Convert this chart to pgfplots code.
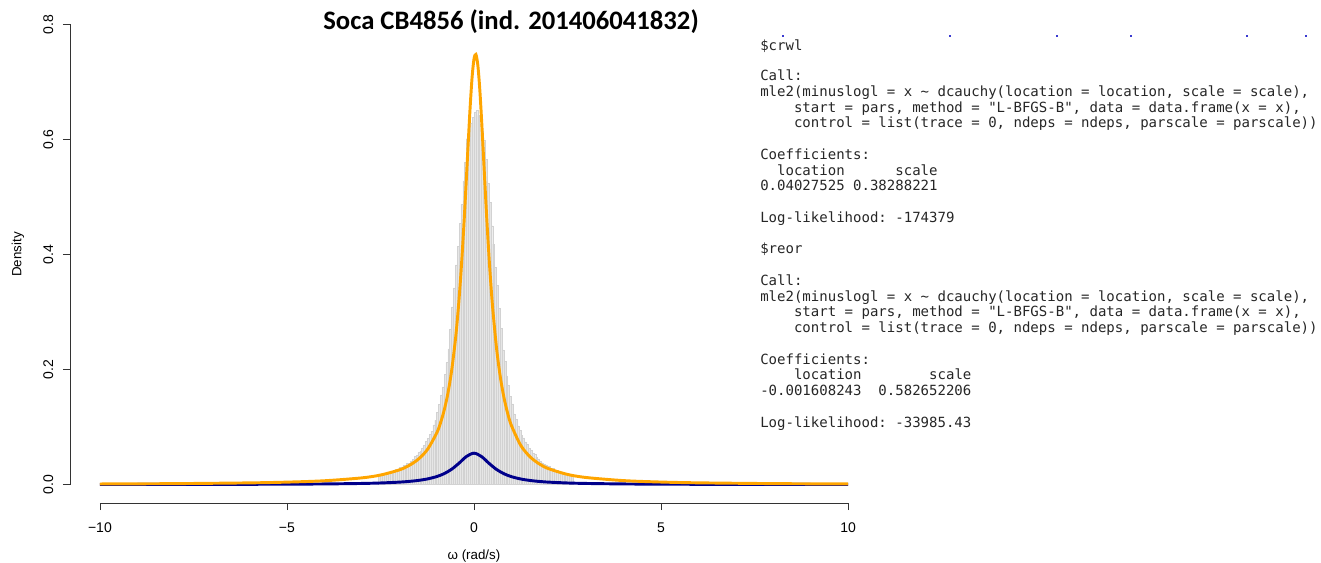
\documentclass[border=0pt]{standalone}
\usepackage{pgfplots}
\pgfplotsset{compat=1.18}
\usepackage{fontspec}
\setmainfont{Liberation Sans}
\newfontfamily\titlefont{Carlito}
\newfontfamily\monofont{DejaVu Sans Mono}
\definecolor{rorange}{HTML}{FFA500}
\definecolor{rblue}{HTML}{00008B}
\definecolor{histfill}{HTML}{E6E6E6}
\definecolor{histedge}{HTML}{D2D2D2}
\definecolor{dotblue}{HTML}{3A3AD0}
\begin{document}
\begin{tikzpicture}[x=0.75pt,y=0.75pt]
\begin{axis}[
  at={(52.5pt,44.25pt)}, anchor=south west,
  scale only axis, width=606pt, height=372.75pt,
  xmin=-10.8, xmax=10.8, ymin=-0.032, ymax=0.832,
  axis lines*=left, axis line style={draw=none},
  clip=false,
  xtick={-10,-5,0,5,10}, xticklabels={−10,−5,0,5,10},
  ytick={0,0.2,0.4,0.6,0.8}, yticklabels={0.0,0.2,0.4,0.6,0.8},
  tick align=outside, major tick length=5.25pt,
  tick style={black!80, line width=0.6pt},
  ticklabel style={font=\fontsize{10.5}{12}\selectfont},
  yticklabel style={rotate=90, anchor=south},
  yticklabel shift=3.75pt, xticklabel shift=6pt,
  xlabel={ω (rad/s)}, ylabel={Density},
  label style={font=\fontsize{10}{12}\selectfont},
  every axis x label/.style={at={(axis description cs:0.5,-0.1066)}, anchor=center},
  every axis y label/.style={at={(axis description cs:-0.0644,0.5)}, rotate=90, anchor=center},
]
\draw[black!80, line width=0.6pt] (axis cs:-10,-0.032) -- (axis cs:10,-0.032);
\draw[black!80, line width=0.6pt] (axis cs:-10.8,0) -- (axis cs:-10.8,0.8);
% histogram
\addplot[ybar interval, fill=histfill, draw=histedge, line width=0.3pt] coordinates {
(-2.55,0.0158) (-2.50,0.0170) (-2.45,0.0175) (-2.40,0.0188) (-2.35,0.0191)
(-2.30,0.0205) (-2.25,0.0210) (-2.20,0.0230) (-2.15,0.0240) (-2.10,0.0263)
(-2.05,0.0275) (-2.00,0.0296) (-1.95,0.0308) (-1.90,0.0330) (-1.85,0.0340)
(-1.80,0.0364) (-1.75,0.0375) (-1.70,0.0412) (-1.65,0.0440) (-1.60,0.0486)
(-1.55,0.0512) (-1.50,0.0556) (-1.45,0.0585) (-1.40,0.0638) (-1.35,0.0686)
(-1.30,0.0755) (-1.25,0.0800) (-1.20,0.0870) (-1.15,0.0930) (-1.10,0.1040)
(-1.05,0.1115) (-1.00,0.1250) (-0.95,0.1390) (-0.90,0.1560) (-0.85,0.1700)
(-0.80,0.1915) (-0.75,0.2120) (-0.70,0.2360) (-0.65,0.2700) (-0.60,0.3090)
(-0.55,0.3420) (-0.50,0.3820) (-0.45,0.4140) (-0.40,0.4540) (-0.35,0.4870)
(-0.30,0.5280) (-0.25,0.5610) (-0.20,0.6010) (-0.15,0.6120) (-0.10,0.6290)
(-0.05,0.6380) (0.00,0.6470) (0.05,0.6500) (0.10,0.6420) (0.15,0.6270)
(0.20,0.6150) (0.25,0.5990) (0.30,0.5650) (0.35,0.5240) (0.40,0.4910)
(0.45,0.4500) (0.50,0.4180) (0.55,0.3780) (0.60,0.3460) (0.65,0.3060)
(0.70,0.2720) (0.75,0.2340) (0.80,0.2140) (0.85,0.1890) (0.90,0.1720)
(0.95,0.1540) (1.00,0.1405) (1.05,0.1230) (1.10,0.1130) (1.15,0.1020)
(1.20,0.0945) (1.25,0.0860) (1.30,0.0812) (1.35,0.0742) (1.40,0.0695)
(1.45,0.0625) (1.50,0.0592) (1.55,0.0548) (1.60,0.0520) (1.65,0.0475)
(1.70,0.0448) (1.75,0.0402) (1.80,0.0380) (1.85,0.0355) (1.90,0.0345)
(1.95,0.0322) (2.00,0.0312) (2.05,0.0288) (2.10,0.0279) (2.15,0.0256)
(2.20,0.0245) (2.25,0.0222) (2.30,0.0212) (2.35,0.0198) (2.40,0.0195)
(2.45,0.0182) (2.50,0.0178) (2.55,0.0165) (2.60,0.0160) (2.65,0)
};
% reor fit (blue)
\addplot[rblue, line width=2.2pt, smooth] coordinates {
(-10,0.000185) (-8,0.000288) (-6,0.000511) (-5,0.000732) (-4,0.001136)
(-3,0.001988) (-2.5,0.002818) (-2,0.004280) (-1.75,0.005461) (-1.5,0.007176)
(-1.25,0.009772) (-1,0.013879) (-0.8,0.018985) (-0.6,0.026588) (-0.4,0.037227)
(-0.2,0.048956) (0,0.054632) (0.2,0.048790) (0.4,0.037036) (0.6,0.026441)
(0.8,0.018886) (1,0.013813) (1.25,0.009730) (1.5,0.007149) (1.75,0.005443)
(2,0.004268) (2.5,0.002811) (3,0.001984) (4,0.001134) (5,0.000731)
(6,0.000510) (8,0.000288) (10,0.000185)
};
% crwl fit (orange)
\addplot[rorange, line width=2.2pt, smooth] coordinates {
(-10,0.001087) (-8,0.001693) (-6,0.002994) (-5,0.004293) (-4,0.006660)
(-3,0.011681) (-2.5,0.01662) (-2,0.025453) (-1.75,0.032726) (-1.5,0.043544)
(-1.25,0.060555) (-1,0.089265) (-0.9,0.10642) (-0.8,0.12864) (-0.7,0.15791)
(-0.6,0.19708) (-0.5,0.25014) (-0.45,0.28340) (-0.4,0.32219) (-0.35,0.36695)
(-0.3,0.41803) (-0.25,0.47512) (-0.2,0.53681) (-0.15,0.60003) (-0.1,0.65967)
(-0.05,0.70881) (0,0.74003) (0.05,0.74774) (0.1,0.73045) (0.15,0.69144)
(0.2,0.63731) (0.25,0.57554) (0.3,0.51243) (0.35,0.45227) (0.4,0.39742)
(0.45,0.34881) (0.5,0.30644) (0.6,0.23851) (0.7,0.18852)
(0.8,0.15155) (0.9,0.12384) (1.0,0.10273) (1.25,0.06813) (1.5,0.048164)
(1.75,0.035732) (2,0.027510) (2.5,0.017700) (3,0.012315) (4,0.006931)
(5,0.004433) (6,0.003075) (8,0.001727) (10,0.001104)
};
\end{axis}
% title
\node[anchor=center, inner sep=0] at (511,540) {\titlefont\bfseries\fontsize{20}{24}\selectfont Soca CB4856 (ind. 201406041832)};
% residual dots at top
\foreach \xx in {783,950,1057,1131,1247,1306} {\fill[dotblue] (\xx-1,525) rectangle (\xx+1,526.5);}
% R console output
\begin{scope}[every node/.style={anchor=base west, inner sep=0, font=\monofont\fontsize{10.52}{12}\selectfont, text=black!85}]
\node at (760,511) {\$crwl};
\node at (760,481.5) {Call:};
\node at (760,465.75) {mle2(minuslogl~=~x~\textasciitilde{}~dcauchy(location~=~location,~scale~=~scale),};
\node at (760,450) {~~~~start~=~pars,~method~=~"L-BFGS-B",~data~=~data.frame(x~=~x),};
\node at (760,434.25) {~~~~control~=~list(trace~=~0,~ndeps~=~ndeps,~parscale~=~parscale))};
\node at (760,402.75) {Coefficients:};
\node at (760,387) {~~location~~~~~~scale};
\node at (760,371.25) {0.04027525~0.38288221};
\node at (760,339.75) {Log-likelihood:~-174379};
\node at (760,308.25) {\$reor};
\node at (760,276.75) {Call:};
\node at (760,261) {mle2(minuslogl~=~x~\textasciitilde{}~dcauchy(location~=~location,~scale~=~scale),};
\node at (760,245.25) {~~~~start~=~pars,~method~=~"L-BFGS-B",~data~=~data.frame(x~=~x),};
\node at (760,229.5) {~~~~control~=~list(trace~=~0,~ndeps~=~ndeps,~parscale~=~parscale))};
\node at (760,198) {Coefficients:};
\node at (760,182.25) {~~~~location~~~~~~~~scale};
\node at (760,166.5) {-0.001608243~~0.582652206};
\node at (760,135) {Log-likelihood:~-33985.43};
\end{scope}
\pgfresetboundingbox
\useasboundingbox (0,0) rectangle (1321,562);
\end{tikzpicture}
\end{document}
